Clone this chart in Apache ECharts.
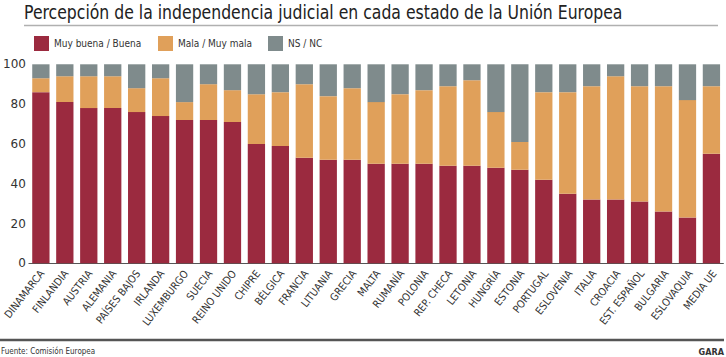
<!DOCTYPE html>
<html>
<head>
<meta charset="utf-8">
<script src="https://cdn.jsdelivr.net/npm/echarts@6/dist/echarts.min.js"></script>
<style>
html,body{margin:0;padding:0;background:#fff;}
#chart{width:726px;height:357px;}
</style>
</head>
<body>
<div id="chart"></div>
<script>
const titleText = 'Percepción de la independencia judicial en cada estado de la Unión Europea';
const sourceText = 'Fuente: Comisión Europea';
const brandText = 'GARA';
const seriesNames = ['Muy buena / Buena', 'Mala / Muy mala', 'NS / NC'];
const categories = ['DINAMARCA','FINLANDIA','AUSTRIA','ALEMANIA','PAÍSES BAJOS','IRLANDA','LUXEMBURGO','SUECIA','REINO UNIDO','CHIPRE','BÉLGICA','FRANCIA','LITUANIA','GRECIA','MALTA','RUMANÍA','POLONIA','REP. CHECA','LETONIA','HUNGRÍA','ESTONIA','PORTUGAL','ESLOVENIA','ITALIA','CROACIA','EST. ESPAÑOL','BULGARIA','ESLOVAQUIA','MEDIA UE'];
const buena = [86,81,78,78,76,74,72,72,71,60,59,53,52,52,50,50,50,49,49,48,47,42,35,32,32,31,26,23,55];
const mala  = [7,13,16,16,12,19,9,18,16,25,27,37,32,36,31,35,37,40,43,28,14,44,51,57,62,58,63,59,34];
const nsnc  = [7,6,6,6,12,7,19,10,13,15,14,10,16,12,19,15,13,11,8,24,39,14,14,11,6,11,11,18,11];
const yTicks = [0,20,40,60,80,100];

const colors = ['#9b2a3f', '#e0a05a', '#7f8b8c'];
const condensed = "'DejaVu Sans Condensed','DejaVu Sans',sans-serif";

const chart = echarts.init(document.getElementById('chart'), null, {renderer: 'svg'});
const legendLefts = [29, 153, 263];
const labelShift = 4;
const option = {
  animation: false,
  backgroundColor: '#fff',
  color: colors,
  legend: seriesNames.map((n, i) => ({
    data: [n],
    left: legendLefts[i], top: 31,
    icon: 'rect', itemWidth: 15, itemHeight: 15,
    textStyle: {fontFamily: condensed, fontSize: 10, color: '#333'},
    selectedMode: false
  })),
  grid: [
    {left: 25.7, right: 2.6, top: 64.3, bottom: 93.7, containLabel: false},
    {left: 25.7 + labelShift, right: 2.6 - labelShift, top: 64.3, bottom: 93.7, containLabel: false}
  ],
  xAxis: [
    {
      type: 'category', gridIndex: 0, data: categories,
      axisLine: {lineStyle: {color: '#555', width: 1}},
      axisTick: {show: false},
      axisLabel: {show: false}
    },
    {
      type: 'category', gridIndex: 1, data: categories,
      axisLine: {show: false}, axisTick: {show: false}, splitLine: {show: false},
      axisLabel: {rotate: 52, margin: 8, interval: 0, fontFamily: condensed, fontSize: 10.5, color: '#333'}
    }
  ],
  yAxis: [
    {
      type: 'value', gridIndex: 0, min: yTicks[0], max: yTicks[yTicks.length - 1], interval: 20,
      axisLine: {show: false}, axisTick: {show: false}, splitLine: {show: false},
      axisLabel: {margin: 3, fontFamily: "'DejaVu Sans',sans-serif", fontSize: 12, color: '#333', padding: [0,0,6,0]}
    },
    {
      type: 'value', gridIndex: 1, min: 0, max: 100, show: false
    }
  ],
  series: [buena, mala, nsnc].map((d, i) => ({
    name: seriesNames[i], type: 'bar', stack: 'total', data: d,
    xAxisIndex: 0, yAxisIndex: 0,
    barWidth: 17.3, itemStyle: {color: colors[i]}
  })),
  graphic: [
    {type: 'text', x: 24, y: 12, scaleX: 0.825,
     style: {text: titleText, fontFamily: "'DejaVu Sans',sans-serif", fontSize: 19, fill: '#222', verticalAlign: 'middle'}},
    {type: 'line', shape: {x1: 24, y1: 25.5, x2: 718, y2: 25.5}, style: {stroke: '#b0b0b0', lineWidth: 1.5}},
    {type: 'line', shape: {x1: 0, y1: 340, x2: 724, y2: 340}, style: {stroke: '#555', lineWidth: 2.5}},
    {type: 'text', x: 1, y: 351, scaleX: 0.8,
     style: {text: sourceText, fontFamily: "'DejaVu Sans',sans-serif", fontSize: 9, fill: '#333', verticalAlign: 'middle'}},
    {type: 'text', x: 724, y: 352, scaleX: 0.9,
     style: {text: brandText, fontFamily: "'DejaVu Sans',sans-serif", fontSize: 9, fontWeight: 'bold', fill: '#333', align: 'right', verticalAlign: 'middle'}}
  ]
};
chart.setOption(option);
</script>
</body>
</html>
